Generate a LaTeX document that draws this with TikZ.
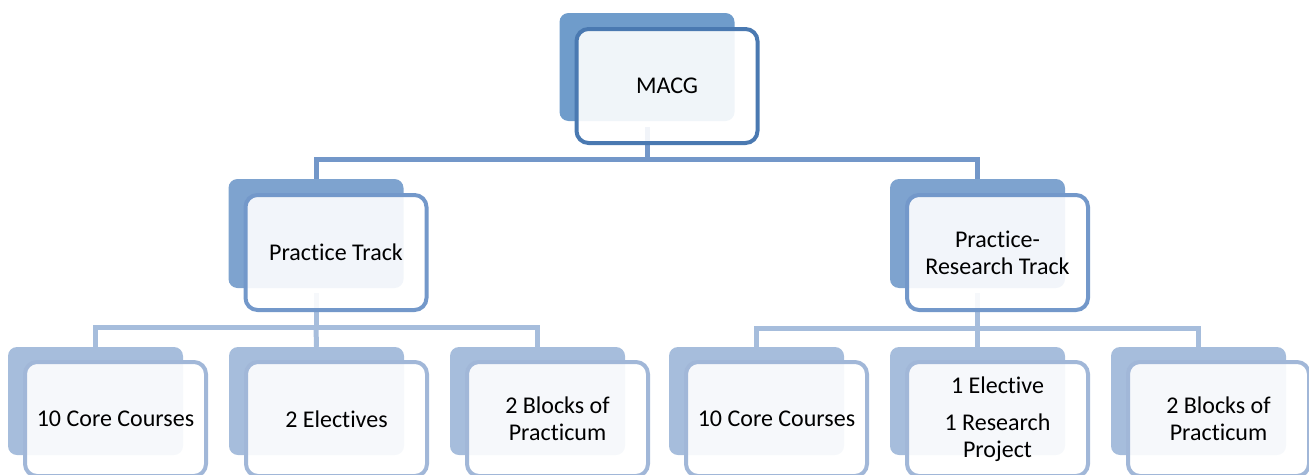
\documentclass[tikz,border=0pt]{standalone}
\usepackage{fontspec}
\setmainfont[Ligatures=NoCommon]{Carlito}
\usetikzlibrary{calc}
\definecolor{backA}{HTML}{6F9CCB}
\definecolor{edgeA}{HTML}{4A79B1}
\definecolor{backB}{HTML}{7EA3CF}
\definecolor{edgeB}{HTML}{7398CA}
\definecolor{backC}{HTML}{A6BDDC}
\definecolor{edgeC}{HTML}{A1B7D8}
\definecolor{connA}{HTML}{7397C9}
\definecolor{connB}{HTML}{A6BDDC}
\begin{document}
\begin{tikzpicture}[x=1pt,y=-1pt,
  backbox/.style={rounded corners=9pt, inner sep=0pt, minimum width=175pt, minimum height=108pt},
  frontbox/.style={rounded corners=12pt, fill=white, fill opacity=0.9, text opacity=1,
    line width=4pt, minimum width=181pt, minimum height=114pt, inner sep=0pt,
    align=center, font=\fontsize{24}{27}\selectfont},
  lvA/.style={backbox, fill=backA},
  lvB/.style={backbox, fill=backB, minimum height=109pt},
  lvC/.style={backbox, fill=backC},
  frA/.style={frontbox, draw=edgeA},
  frB/.style={frontbox, draw=edgeB, minimum height=115pt},
  frC/.style={frontbox, draw=edgeC},
  connone/.style={draw=connA, line width=5pt},
  conntwo/.style={draw=connB, line width=5pt}]
\useasboundingbox (0,0) rectangle (1309,474);
\clip (0,0) rectangle (1309,474);
% back boxes
\node[lvA] (bM) at (647,67) {};
\node[lvB] (bPT) at (316,233.5) {};
\node[lvB] (bPR) at (977.5,233.5) {};
\node[lvC] (b1) at (95.5,401) {};
\node[lvC] (b2) at (316.5,401) {};
\node[lvC] (b3) at (537.5,401) {};
\node[lvC] (b4) at (756.5,401) {};
\node[lvC] (b5) at (977.5,401) {};
\node[lvC] (b6) at (1198.5,401) {};
% connectors
\draw[connone] ($(bM.south)+(0,6)$) -- ++(0,32) coordinate (jA);
\draw[connone] (bPT.north) |- (jA) -| (bPR.north);
\draw[conntwo] ($(bPT.south)+(0,5)$) -- ++(0,34) coordinate (jB);
\draw[conntwo] (b1.north) |- (jB) -| (b3.north);
\draw[conntwo] (b2.north) -- (jB);
\draw[conntwo] ($(bPR.south)+(0,5)$) -- ++(0,35) coordinate (jC);
\draw[conntwo] (b4.north) |- (jC) -| (b6.north);
\draw[conntwo] (b5.north) -- (jC);
% front boxes
\node[frA] (M) at (667,86) {MACG};
\node[frB] (PT) at (336,252.5) {Practice Track};
\node[frB] (PR) at (997.5,252.5) {Practice-\\Research Track};
\node[frC] (c1) at (115.5,419) {10 Core Courses};
\node[frC] (c2) at (336.5,419) {2 Electives};
\node[frC] (c3) at (557.5,419) {2 Blocks of\\Practicum};
\node[frC] (c4) at (776.5,419) {10 Core Courses};
\node[frC] (c5) at (997.5,419) {1 Elective\\[10pt]1 Research\\Project};
\node[frC] (c6) at (1218.5,419) {2 Blocks of\\Practicum};
\end{tikzpicture}
\end{document}
